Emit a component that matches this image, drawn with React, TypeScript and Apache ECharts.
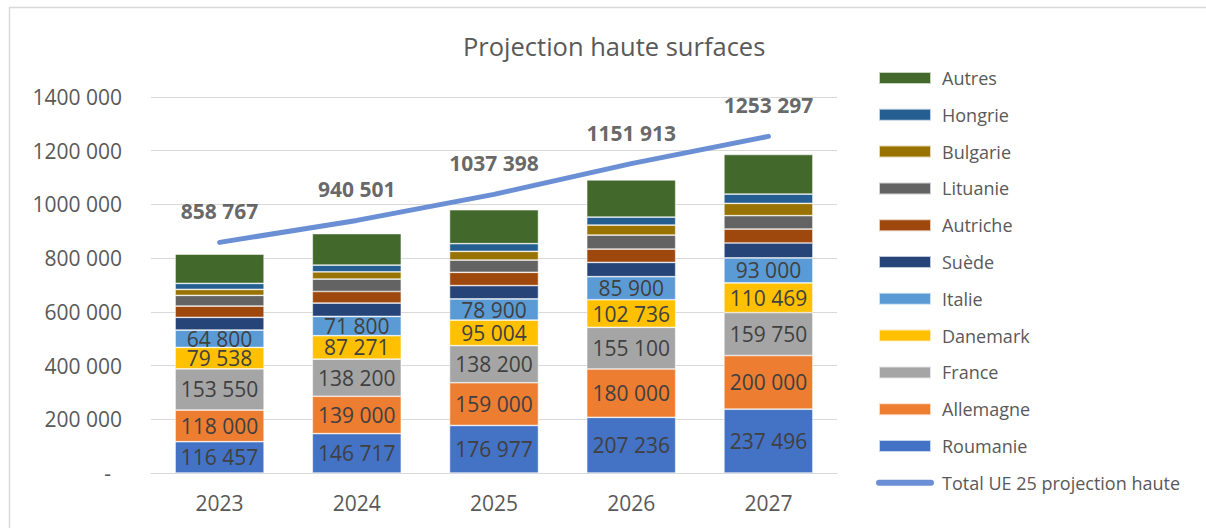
import React, { useEffect, useRef } from "react";
import * as echarts from "echarts";

const years = ["2023", "2024", "2025", "2026", "2027"];
const roumanie = [116457, 146717, 176977, 207236, 237496];
const allemagne = [118000, 139000, 159000, 180000, 200000];
const france = [153550, 138200, 138200, 155100, 159750];
const danemark = [79538, 87271, 95004, 102736, 110469];
const italie = [64800, 71800, 78900, 85900, 93000];
const suede = [47200, 49800, 49800, 53100, 55700];
const autriche = [42000, 43100, 49400, 49800, 52000];
const lituanie = [39800, 46100, 45700, 52000, 49800];
const bulgarie = [22300, 27100, 32300, 37200, 45700];
const hongrie = [22300, 24900, 28600, 29700, 34600];
const autres = [108900, 117400, 126300, 138600, 147500];
const totalUE = [858767, 940501, 1037398, 1151913, 1253297];
const yTicks = { min: 0, max: 1400000, interval: 200000 };

const FONT = "'Open Sans', 'Noto Sans', sans-serif";

function fmt(v: number): string {
  if (v === 0) return "-\u00A0\u00A0";
  const th = Math.floor(v / 1000);
  const rest = String(Math.round(v % 1000)).padStart(3, "0");
  return th > 0 ? `${th} ${rest}` : rest;
}

const barSeries: { name: string; data: number[]; color: string; label: boolean }[] = [
  { name: "Roumanie", data: roumanie, color: "#4472C4", label: true },
  { name: "Allemagne", data: allemagne, color: "#ED7D31", label: true },
  { name: "France", data: france, color: "#A5A5A5", label: true },
  { name: "Danemark", data: danemark, color: "#FFC000", label: true },
  { name: "Italie", data: italie, color: "#5B9BD5", label: true },
  { name: "Suède", data: suede, color: "#264478", label: false },
  { name: "Autriche", data: autriche, color: "#9E480E", label: false },
  { name: "Lituanie", data: lituanie, color: "#636363", label: false },
  { name: "Bulgarie", data: bulgarie, color: "#997300", label: false },
  { name: "Hongrie", data: hongrie, color: "#255E91", label: false },
  { name: "Autres", data: autres, color: "#43682B", label: false },
];

const lineName = "Total UE 25 projection haute";
const LINE_COLOR = "#6B8FD4";

export default function App() {
  const ref = useRef<HTMLDivElement>(null);
  useEffect(() => {
    if (!ref.current) return;
    const chart = echarts.init(ref.current, undefined, { renderer: "svg" });
    const series: any[] = barSeries.map((s) => ({
      name: s.name,
      type: "bar",
      stack: "total",
      data: s.data,
      barWidth: 89,
      itemStyle: { color: s.color, borderColor: "rgba(255,255,255,0.7)", borderWidth: 0.7 },
      label: {
        show: s.label,
        position: "inside",
        color: "#404040",
        fontSize: 21,
        lineHeight: 17,
        fontFamily: FONT,
        formatter: (p: any) => fmt(p.value),
      },
    }));
    series.push({
      name: lineName,
      type: "line",
      data: totalUE,
      symbol: "none",
      lineStyle: { color: LINE_COLOR, width: 5, cap: "round" },
      itemStyle: { color: LINE_COLOR },
      z: 10,
    });
    series.push({
      name: "totalLabels",
      type: "scatter",
      data: totalUE,
      symbol: "circle",
      symbolSize: 1,
      itemStyle: { color: "rgba(0,0,0,0)" },
      silent: true,
      z: 11,
      label: {
        show: true,
        position: "top",
        distance: 20,
        color: "#404040",
        fontSize: 21,
        fontWeight: "bold",
        fontFamily: FONT,
        formatter: (p: any) => fmt(p.value),
      },
    });
    const legendData = [
      ...barSeries.slice().reverse().map((s) => ({ name: s.name, icon: "rect" })),
      {
        name: lineName,
        itemStyle: { color: "rgba(0,0,0,0)", borderWidth: 0, opacity: 0 },
        lineStyle: { color: LINE_COLOR, width: 6, cap: "round" },
      },
    ];
    chart.setOption({
      animation: false,
      textStyle: { fontFamily: FONT },
      title: {
        text: "Projection haute surfaces",
        left: 458,
        top: 28,
        textStyle: { fontSize: 25.5, fontWeight: "normal", color: "#595959", fontFamily: FONT },
      },
      graphic: [
        {
          type: "rect",
          shape: { x: 9.5, y: 7.5, width: 1400, height: 700 },
          style: { fill: "none", stroke: "#d9d9d9", lineWidth: 1.5 },
          silent: true,
        },
      ],
      legend: {
        orient: "vertical",
        left: 876,
        top: 68,
        padding: 0,
        itemWidth: 52,
        itemHeight: 12,
        itemGap: 16.8,
        data: legendData,
        textStyle: {
          fontSize: 18,
          color: "#595959",
          fontFamily: FONT,
          lineHeight: 20,
          padding: [0, 0, 0, 6],
        },
      },
      grid: { left: 151, right: 369, top: 97, bottom: 55, containLabel: false },
      xAxis: {
        type: "category",
        data: years,
        axisLine: { lineStyle: { color: "#d9d9d9", width: 1 } },
        axisTick: { show: false },
        axisLabel: { color: "#595959", fontSize: 21, fontFamily: FONT, margin: 19 },
      },
      yAxis: {
        type: "value",
        min: yTicks.min,
        max: yTicks.max,
        interval: yTicks.interval,
        axisLine: { show: false },
        axisTick: { show: false },
        splitLine: { lineStyle: { color: "#d9d9d9", width: 1 } },
        axisLabel: {
          color: "#595959",
          fontSize: 21,
          fontFamily: FONT,
          margin: 29,
          formatter: (v: number) => fmt(v),
        },
      },
      series,
    });
    return () => chart.dispose();
  }, []);
  return (
    <div style={{ position: "absolute", left: 0, top: 0, width: 1206, height: 528, background: "#fff" }}>
      <div ref={ref} style={{ width: 1206, height: 528 }} />
    </div>
  );
}
